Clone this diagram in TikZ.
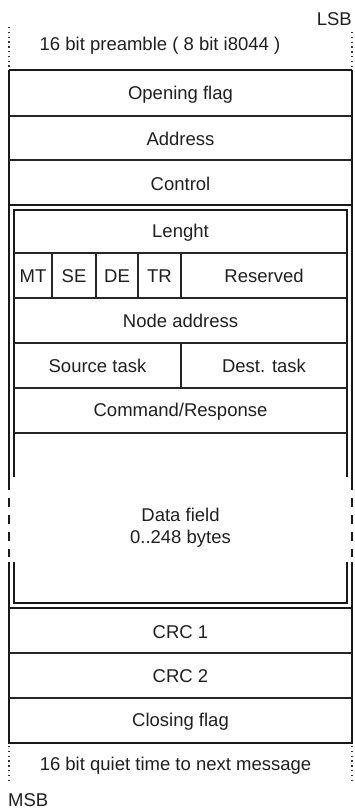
\documentclass[tikz,border=0pt]{standalone}
\usepackage{fontspec}
\setmainfont{Liberation Sans}
\begin{document}
\begin{tikzpicture}[x=1pt,y=-1pt,
  frame/.style={line width=1.5pt,draw=black!90},
  sep/.style={line width=1.3pt,draw=black!85},
  dotline/.style={line width=1.6pt,draw=black!80,dash pattern=on 1.4pt off 3.4pt},
  gapline/.style={line width=1.8pt,draw=black!90,dash pattern=on 9pt off 8pt},
  lbl/.style={font=\fontsize{18.5}{22}\selectfont,text=black!88,inner sep=0pt}]
\useasboundingbox (0,0) rectangle (354,810);

% ---- outer frame (x = 9 .. 352) ----
\draw[frame] (9,70) -- (352,70);
\draw[frame] (9,70) -- (9,490);
\draw[frame] (352,70) -- (352,490);
\draw[frame] (9,562) -- (9,743) -- (352,743) -- (352,562);
\draw[gapline] (9,498) -- (9,557);
\draw[gapline] (352,498) -- (352,557);

% preamble / quiet time margins
\draw[dotline] (9,27) -- (9,69);
\draw[dotline] (352,32) -- (352,69);
\draw[dotline] (9,746) -- (9,784);
\draw[dotline] (352,746) -- (352,784);

% ---- header rows ----
\draw[sep] (9,116) -- (352,116);
\draw[sep] (9,160) -- (352,160);
\draw[frame] (9,205) -- (352,205);

% ---- inner (information) box, x = 14 .. 347 ----
\draw[frame] (14,477) -- (14,210) -- (347,210) -- (347,477);
\draw[frame] (14,562) -- (14,603) -- (347,603) -- (347,562);
\draw[sep] (14,253) -- (347,253);
\draw[sep] (14,298) -- (347,298);
\draw[sep] (14,343) -- (347,343);
\draw[sep] (14,388) -- (347,388);
\draw[sep] (14,433) -- (347,433);
% bit fields
\draw[sep] (52,253) -- (52,298);
\draw[sep] (96,253) -- (96,298);
\draw[sep] (138,253) -- (138,298);
\draw[sep] (181,253) -- (181,298);
\draw[sep] (181,343) -- (181,388);

% ---- trailer rows ----
\draw[frame] (9,608) -- (352,608);
\draw[sep] (9,653) -- (352,653);
\draw[sep] (9,698) -- (352,698);

% ---- labels ----
\node[lbl,anchor=base east] (lsb) at (352,26) {LSB};
\node[lbl] (pre) at (160,46) {16 bit preamble ( 8 bit i8044 )};
\node[lbl] (open) at (180.5,95) {Opening flag};
\node[lbl] (addr) at (180.5,139) {Address};
\node[lbl] (ctrl) at (180.5,184) {Control};
\node[lbl] (len) at (180.5,233) {Lenght};
\node[lbl] (mt) at (33,276) {MT};
\node[lbl] (se) at (74,276) {SE};
\node[lbl] (de) at (117,276) {DE};
\node[lbl] (tr) at (159.5,276) {TR};
\node[lbl] (res) at (264,276) {Reserved};
\node[lbl] (node) at (180.5,321) {Node address};
\node[lbl] (src) at (97.5,366) {Source task};
\node[lbl] (dst) at (264,366) {Dest. task};
\node[lbl] (cmd) at (180.5,412) {Command/Response};
\node[lbl,align=center] (data) at (180.5,528) {Data field\\0..248 bytes};
\node[lbl] (crc1) at (180.5,632) {CRC 1};
\node[lbl] (crc2) at (180.5,676) {CRC 2};
\node[lbl] (close) at (180.5,722) {Closing flag};
\node[lbl] (quiet) at (175.5,766) {16 bit quiet time to next message};
\node[lbl,anchor=base west] (msb) at (8,806) {MSB};
\end{tikzpicture}
\end{document}
